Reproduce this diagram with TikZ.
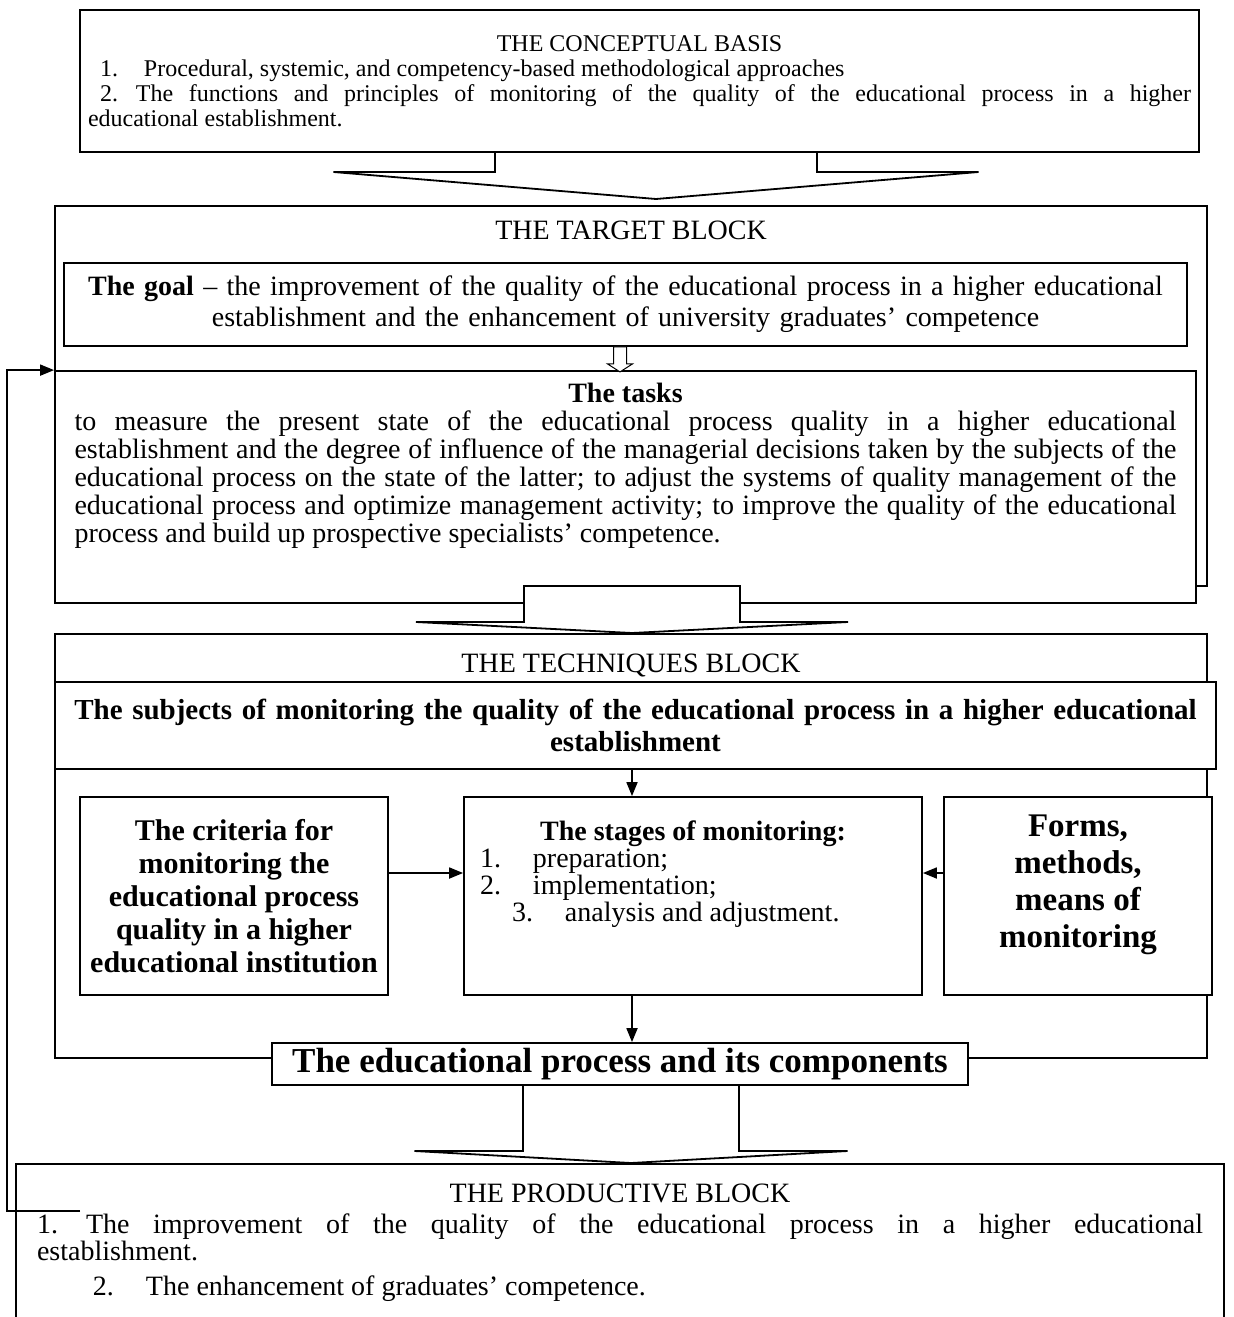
\documentclass[tikz,border=0pt]{standalone}
\usepackage{fontspec}
\setmainfont{Liberation Serif}
\usetikzlibrary{arrows.meta,positioning}
\setlength{\parindent}{0pt}
\hyphenpenalty=10000
\exhyphenpenalty=10000

\tikzset{
  pics/blockarrow/.style n args={4}{code={
    \draw[fill=white] (-#1,0) -- (-#1,#3) -- (-#2,#3) -- (0,#4)
      -- (#2,#3) -- (#1,#3) -- (#1,0) -- cycle;
  }},
}

\begin{document}
\begin{tikzpicture}[x=0.5pt,y=-0.5pt,
  frame/.style={draw,line width=0.9pt,inner sep=0pt},
  card/.style={frame,fill=white},
  heading/.style={inner sep=0pt,font=\fontsize{14}{16}\selectfont},
  link/.style={draw,line width=0.9pt,-{Triangle[length=7pt,width=5.5pt]}},
]
\useasboundingbox (0,0) rectangle (1234,1317);
\clip (0,0) rectangle (1234,1317);

% conceptual basis
\node[frame,minimum width=559.5pt,minimum height=71pt,text width=551.5pt,align=justify,
      font=\fontsize{12}{12.5}\selectfont] (concept) at (639.5,81)
  {{\centering THE CONCEPTUAL BASIS\par}
   \hspace*{6pt}1.\hspace{13pt}Procedural, systemic, and competency-based methodological approaches\par
   \hspace*{6pt}2.\hspace{9pt}The functions and principles of monitoring of the quality of the educational process in a higher\linebreak educational establishment.\par\vspace{4pt}};
\pic[line width=0.9pt] at (656,152) {blockarrow={161}{322.5}{20}{47}};

% target block
\node[frame,minimum width=576pt,minimum height=190pt] (target) at (631,396) {};
\node[heading,below=7.5pt of target.north] (targettitle) {THE TARGET BLOCK};
\node[card,minimum width=561.5pt,minimum height=41.5pt,text width=545pt,align=center,
      font=\fontsize{14}{15.5}\selectfont] (goal) at (625.5,304.5)
  {\textbf{The goal} -- the improvement of the quality of the educational process in a higher educational\\
   establishment and the enhancement of university graduates' competence\\[-3pt]};
\node[card,minimum width=570.5pt,minimum height=116pt] (tasks) at (625.5,487) {};
\pic[line width=0.5pt] at ([xshift=-2.75pt]goal.south) {blockarrow={6.5}{12.5}{17}{25}};
\node[below=6.5pt of tasks.north,inner sep=0pt,text width=551pt,align=justify,
      font=\fontsize{14}{14}\selectfont] (taskstext)
  {{\centering\textbf{The tasks}\par}
   to measure the present state of the educational process quality in a higher educational\linebreak
   establishment and the degree of influence of the managerial decisions taken by the subjects of the\linebreak
   educational process on the state of the latter; to adjust the systems of quality management of the\linebreak
   educational process and optimize management activity; to improve the quality of the educational\linebreak
   process and build up prospective specialists' competence.};
\pic[line width=0.9pt] at (632,586) {blockarrow={108}{216}{36}{47}};

% techniques block
\node[frame,minimum width=576pt,minimum height=212pt] (techniques) at (631,846) {};
\node[heading,below=10pt of techniques.north] (techtitle) {THE TECHNIQUES BLOCK};
\node[card,minimum width=580.5pt,minimum height=43.5pt,text width=570pt,align=center,
      font=\bfseries\fontsize{14.5}{16}\selectfont] (subjects) at (635.5,725.5)
  {The subjects of monitoring the quality of the educational process in a higher educational\\establishment};
\node[card,minimum width=154pt,minimum height=99pt,align=center,
      font=\bfseries\fontsize{15}{16.5}\selectfont] (criteria) at (234,896)
  {The criteria for\\monitoring the\\educational process\\quality in a higher\\educational institution};
\node[card,minimum width=229pt,minimum height=99pt] (stages) at (693,896) {};
\node[below=12pt of stages.north,inner sep=0pt,align=center,
      font=\fontsize{14}{13.5}\selectfont] (stagestext)
  {\textbf{The stages of monitoring:}\\
   \makebox[213pt][l]{\makebox[26.5pt][l]{1.}preparation;}\\
   \makebox[213pt][l]{\makebox[26.5pt][l]{2.}implementation;}\\
   \makebox[213pt][l]{\hspace*{16pt}\makebox[26.5pt][l]{3.}analysis and adjustment.}};
\node[card,minimum width=134pt,minimum height=99pt,align=center,
      font=\bfseries\fontsize{16.5}{18.5}\selectfont] (forms) at (1078,896)
  {Forms,\\methods,\\means of\\monitoring\\[-4pt]};
\node[card,minimum width=348pt,minimum height=21pt,
      font=\bfseries\fontsize{17.5}{19}\selectfont] (edu) at (620,1064)
  {The educational process and its components};

\coordinate (axis) at (632,0);
\coordinate (midrow) at (0,873);
\draw[link] (subjects.south -| axis) -- (stages.north -| axis);
\draw[link] (criteria.east |- midrow) -- (stages.west |- midrow);
\draw[link] (forms.west |- midrow) -- (stages.east |- midrow);
\draw[link] (stages.south -| axis) -- (edu.north -| axis);
\pic[line width=0.9pt] at (631,1085) {blockarrow={108}{216.5}{66}{78}};

% productive block
\node[frame,minimum width=604pt,minimum height=100pt,anchor=north] (productive) at (620,1163) {};
\node[heading,below=10.5pt of productive.north] (prodtitle) {THE PRODUCTIVE BLOCK};
\node[below=5pt of prodtitle,inner sep=0pt,text width=583pt,align=justify,
      font=\fontsize{14}{13.5}\selectfont] (prodtext)
  {1.\hspace{14pt}The improvement of the quality of the educational process in a higher educational\linebreak
   establishment.\par\vspace{4pt}
   \hspace*{28pt}2.\hspace{16pt}The enhancement of graduates' competence.};

% feedback loop
\coordinate (fbstart) at (80,1211);
\coordinate (fbturn) at (7,1211);
\draw[link] (fbstart) -- (fbturn) |- (tasks.north west);
\end{tikzpicture}
\end{document}
